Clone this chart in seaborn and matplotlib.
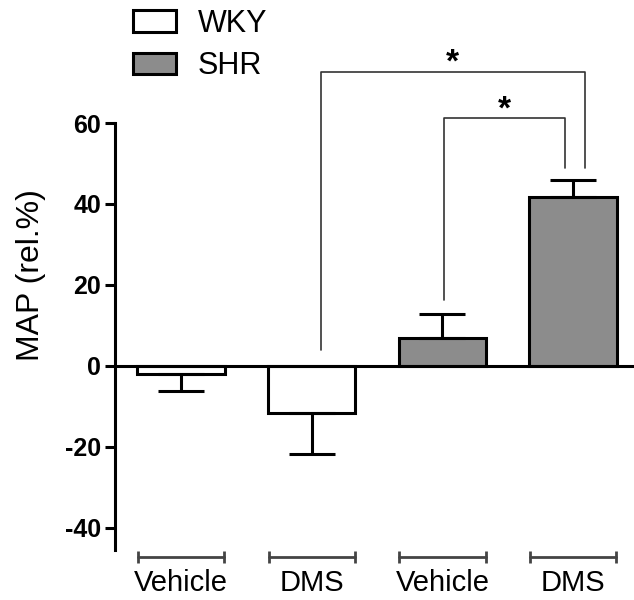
import pandas as pd
import seaborn as sns
import matplotlib.pyplot as plt
from matplotlib.patches import Patch

# values
conditions = ["WKY Vehicle", "WKY DMS", "SHR Vehicle", "SHR DMS"]
tick_labels = ["Vehicle", "DMS", "Vehicle", "DMS"]
strain = ["WKY", "WKY", "SHR", "SHR"]
map_mean = [-2.0, -11.6, 7.0, 41.7]
map_sem = [4.2, 10.1, 5.8, 4.3]

# significance brackets: (x start, x end, bar height, left leg end, right leg end)
sig_brackets = [(1.07, 3.09, 72.6, 4.0, 49.0), (2.01, 2.94, 61.2, 16.3, 49.0)]
star_y = [74.8, 63.2]

df = pd.DataFrame({"condition": conditions, "MAP": map_mean, "strain": strain})

sns.set_theme(style="white")
plt.rcParams['font.family'] = ['Liberation Sans', 'DejaVu Sans']
plt.rcParams['axes.unicode_minus'] = False
plt.rcParams['text.color'] = 'black'
plt.rcParams['axes.labelcolor'] = 'black'

fig = plt.figure(figsize=(6.34, 6.0), dpi=100)
ax = fig.add_axes([115/634, 50/600, 519/634, 550/600])

sns.barplot(data=df, x="condition", y="MAP", hue="strain", dodge=False,
            palette={"WKY": "white", "SHR": "#8c8c8c"}, edgecolor="black",
            linewidth=2.2, width=0.67, legend=False, ax=ax)

# one-sided error bars, away from zero
lower = [s if m < 0 else 0 for m, s in zip(map_mean, map_sem)]
upper = [s if m >= 0 else 0 for m, s in zip(map_mean, map_sem)]
ax.errorbar(range(len(conditions)), map_mean, yerr=[lower, upper], fmt="none",
            ecolor="black", elinewidth=2.2, capsize=16.5, capthick=2.2, zorder=1)

ax.axhline(0, color="black", lw=2.2, zorder=3)
ax.set_xlim(-0.505, 3.466)
ax.set_ylim(-45.5, 90.4)
ax.set_yticks([-40, -20, 0, 20, 40, 60])
for sp in ["top", "right", "bottom"]:
    ax.spines[sp].set_visible(False)
ax.spines["left"].set_bounds(-45.5, 60)
ax.spines["left"].set_linewidth(2.2)
ax.spines["left"].set_color("black")
ax.tick_params(axis="y", direction="out", length=7, width=2.2, pad=3,
               labelsize=18, left=True, colors="black")
for t in ax.get_yticklabels():
    t.set_fontweight("bold")
ax.set_ylabel("MAP (rel.%)", fontsize=23, labelpad=14)

ax.set_xticks(range(len(tick_labels)))
ax.set_xticklabels(tick_labels, fontsize=21)
ax.tick_params(axis="x", length=0, pad=14, colors="black")
ax.set_xlabel("")

# little group lines under the labels
for i in range(len(tick_labels)):
    ax.plot([i - 0.33, i + 0.33], [-0.013, -0.013], transform=ax.get_xaxis_transform(),
            clip_on=False, color="#444444", lw=2, marker="|", markersize=8, mew=2)

# significance brackets
for (x0, x1, h, l0, l1), sy in zip(sig_brackets, star_y):
    ax.plot([x0, x0, x1, x1], [l0, h, h, l1], color="#333333", lw=1.2)
    ax.text((x0 + x1) / 2, sy, "*", ha="center", va="center", fontsize=24,
            fontweight="bold", color="black")

handles = [Patch(facecolor="white", edgecolor="black", linewidth=2.2, label="WKY"),
           Patch(facecolor="#8c8c8c", edgecolor="black", linewidth=2.2, label="SHR")]
ax.legend(handles=handles, loc="upper left", bbox_to_anchor=(133/634, 1 - 9/600),
          bbox_transform=fig.transFigure, frameon=False, fontsize=22,
          handlelength=1.4, handleheight=0.72, labelspacing=0.4,
          handletextpad=0.72, borderpad=0, borderaxespad=0)

plt.savefig("out.png", dpi=100)
